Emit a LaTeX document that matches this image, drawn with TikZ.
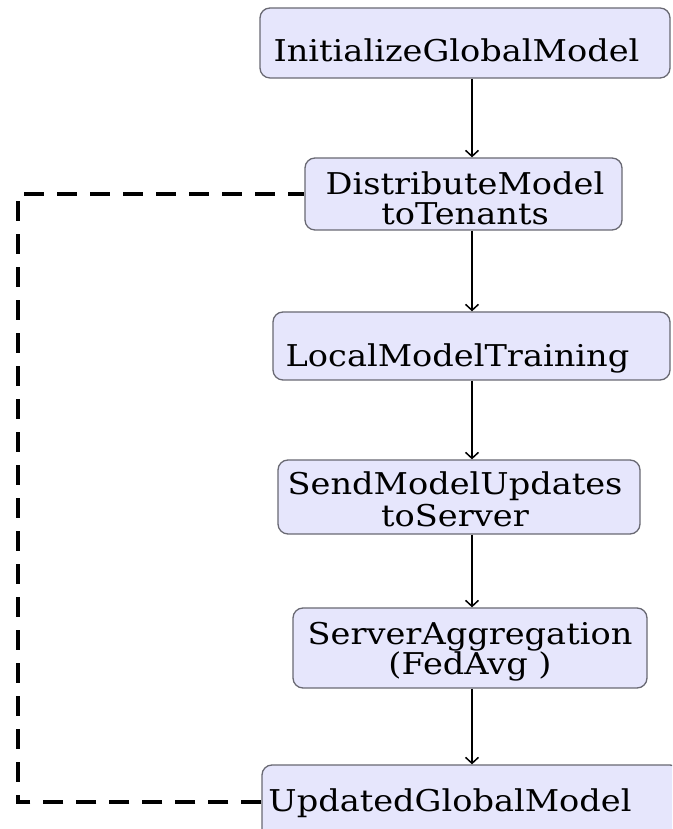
\documentclass[tikz,border=0pt]{standalone}
\usepackage{fontspec}
\setmainfont{DejaVu Serif}[FakeStretch=1.12]
\usetikzlibrary{arrows.meta}

\definecolor{boxfill}{RGB}{230,230,252}
\definecolor{boxline}{RGB}{105,105,115}

\tikzset{
  stage/.style={draw=boxline, fill=boxfill, line width=1.3pt, rounded corners=10pt, inner sep=0pt},
  caption/.style={anchor=base, inner sep=0pt, font=\fontsize{30}{36}\selectfont},
  flow/.style={line width=1.5pt, -{Straight Barb[length=6pt,width=13pt,line width=1.5pt]}},
  feedback/.style={line width=4pt, dash pattern=on 20pt off 13pt}
}

\begin{document}
\begin{tikzpicture}[x=1pt,y=1pt]
  \useasboundingbox (0,0) rectangle (672,829);
  \clip (0,0) rectangle (672,829);

  % process stages, top to bottom
  \node[stage, minimum width=410pt, minimum height=70pt] (init)   at (465,786)   {};
  \node[stage, minimum width=317pt, minimum height=72pt] (dist)   at (463.5,635) {};
  \node[stage, minimum width=397pt, minimum height=68pt] (local)  at (471.5,483) {};
  \node[stage, minimum width=362pt, minimum height=74pt] (send)   at (459,332)   {};
  \node[stage, minimum width=354pt, minimum height=80pt] (server) at (470,181)   {};
  \node[stage, minimum width=418pt, minimum height=75pt] (upd)    at (471,26.5)  {};

  % stage captions, placed on their baselines
  \node[caption] (init-t)    at (456.5,767) {InitializeGlobalModel};
  \node[caption] (dist-t1)   at (465,634)   {DistributeModel};
  \node[caption] (dist-t2)   at (465,604)   {toTenants};
  \node[caption] (local-t)   at (457.5,462) {LocalModelTraining};
  \node[caption] (send-t1)   at (455,334)   {SendModelUpdates};
  \node[caption] (send-t2)   at (455,302)   {toServer};
  \node[caption] (server-t1) at (470,184)   {ServerAggregation};
  \node[caption] (server-t2) at (470,154)   {(FedAvg )};
  \node[caption] (upd-t)     at (450,17)    {UpdatedGlobalModel};

  % vertical axis of the main flow and the column of the feedback loop
  \coordinate (axis) at (472,0);
  \coordinate (loop) at (18,0);

  \draw[flow] (init.south -| axis)   -- (dist.north -| axis);
  \draw[flow] (dist.south -| axis)   -- (local.north -| axis);
  \draw[flow] (local.south -| axis)  -- (send.north -| axis);
  \draw[flow] (send.south -| axis)   -- (server.north -| axis);
  \draw[flow] (server.south -| axis) -- (upd.north -| axis);

  % feedback: updated model goes back to distribution
  \draw[feedback] (upd.west) -- (upd.west -| loop) -- (dist.west -| loop) -- (dist.west);
\end{tikzpicture}
\end{document}
